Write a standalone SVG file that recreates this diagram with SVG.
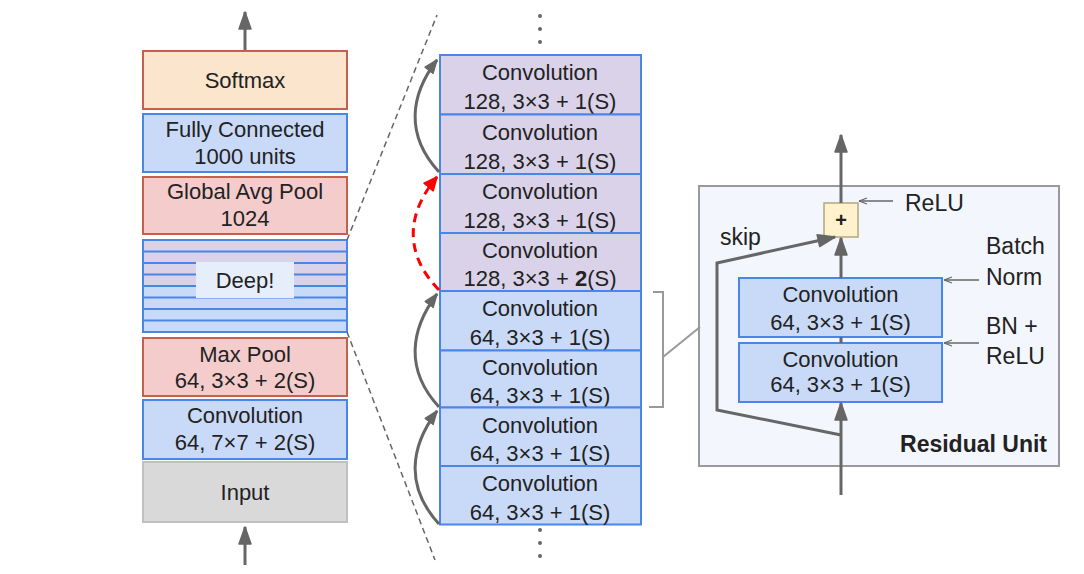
<svg xmlns="http://www.w3.org/2000/svg" width="1084" height="574" viewBox="0 0 1084 574">
<style>
text{font-family:"Liberation Sans",Arial,sans-serif;font-size:22px;fill:#222;text-anchor:middle}
.lbl{font-size:23px;text-anchor:start}
.red{fill:#f4cccc;stroke:#c5604e;stroke-width:2}
.org{fill:#fce5cd;stroke:#c5604e;stroke-width:2}
.blu{fill:#c9daf8;stroke:#4a86e8;stroke-width:2}
.pur{fill:#d9d2e9;stroke:#4a86e8;stroke-width:2}
.gry{fill:#d9d9d9;stroke:#c0c0c0;stroke-width:2}
.arr{fill:none;stroke:#666;stroke-width:3}
.thin{fill:none;stroke:#666;stroke-width:1.5}
</style>
<defs>
<marker id="ah" markerUnits="userSpaceOnUse" viewBox="0 0 20 16" markerWidth="20" markerHeight="16" refX="18" refY="7" orient="auto">
<path d="M1,1 L18,7 L1,13 z" fill="#666" stroke="#666" stroke-width="1.5" stroke-linejoin="round"/>
</marker>
<marker id="ahs" markerUnits="userSpaceOnUse" viewBox="0 0 16 12" markerWidth="16" markerHeight="12" refX="14" refY="6" orient="auto">
<path d="M1,1 L14,6 L1,11 z" fill="#666" stroke="#666" stroke-width="1.5" stroke-linejoin="round"/>
</marker>
<marker id="ahr" markerUnits="userSpaceOnUse" viewBox="0 0 16 14" markerWidth="16" markerHeight="14" refX="14" refY="7" orient="auto">
<path d="M1,1 L14,7 L1,13 z" fill="#f00" stroke="#f00" stroke-width="1.5" stroke-linejoin="round"/>
</marker>
<marker id="aht" markerUnits="userSpaceOnUse" viewBox="0 0 10 8" markerWidth="10" markerHeight="8" refX="9" refY="4" orient="auto">
<path d="M9,4 L1,1 M9,4 L1,7" fill="none" stroke="#666" stroke-width="1.2"/>
</marker>
</defs>

<!-- Left column -->
<g id="softmax"><rect class="org" x="143" y="51" width="204" height="58"/><text x="245" y="88">Softmax</text></g>
<g id="fc"><rect class="blu" x="143" y="114" width="204" height="58"/><text x="245" y="137">Fully Connected</text><text x="245" y="164">1000 units</text></g>
<g id="gap"><rect class="red" x="143" y="177" width="204" height="57"/><text x="245" y="199">Global Avg Pool</text><text x="245" y="226">1024</text></g>
<g id="deep">
<rect x="143" y="240" width="204" height="46" fill="#d9d2e9"/>
<rect x="143" y="286" width="204" height="46" fill="#c9daf8"/>
<g stroke="#4a86e8" stroke-width="2">
<line x1="143" y1="251.5" x2="347" y2="251.5"/><line x1="143" y1="263" x2="347" y2="263"/><line x1="143" y1="274.5" x2="347" y2="274.5"/><line x1="143" y1="286" x2="347" y2="286"/><line x1="143" y1="297.5" x2="347" y2="297.5"/><line x1="143" y1="309" x2="347" y2="309"/><line x1="143" y1="320.5" x2="347" y2="320.5"/>
</g>
<rect x="143" y="240" width="204" height="92" fill="none" stroke="#4a86e8" stroke-width="2"/>
<rect x="196" y="262" width="98" height="36" fill="#e6eefb"/>
<text x="245" y="288">Deep!</text>
</g>
<g id="maxpool"><rect class="red" x="143" y="338" width="204" height="58"/><text x="245" y="362">Max Pool</text><text x="245" y="388">64, 3×3 + 2(S)</text></g>
<g id="conv7"><rect class="blu" x="143" y="400" width="204" height="59"/><text x="245" y="423">Convolution</text><text x="245" y="450">64, 7×7 + 2(S)</text></g>
<g id="input"><rect class="gry" x="143" y="462" width="204" height="60"/><text x="245" y="500">Input</text></g>

<!-- Middle column -->
<g id="m1"><rect class="pur" x="440" y="55" width="201" height="59.5"/><text x="540" y="80">Convolution</text><text x="540" y="109">128, 3×3 + 1(S)</text></g>
<g id="m2"><rect class="pur" x="440" y="114.5" width="201" height="59.5"/><text x="540" y="139.5">Convolution</text><text x="540" y="168.5">128, 3×3 + 1(S)</text></g>
<g id="m3"><rect class="pur" x="440" y="174" width="201" height="59"/><text x="540" y="199">Convolution</text><text x="540" y="228">128, 3×3 + 1(S)</text></g>
<g id="m4"><rect class="pur" x="440" y="233" width="201" height="58"/><text x="540" y="258">Convolution</text><text x="540" y="286">128, 3×3 + <tspan font-weight="bold">2</tspan>(S)</text></g>
<g id="m5"><rect class="blu" x="440" y="291" width="201" height="59.5"/><text x="540" y="316">Convolution</text><text x="540" y="345">64, 3×3 + 1(S)</text></g>
<g id="m6"><rect class="blu" x="440" y="350.5" width="201" height="57"/><text x="540" y="375">Convolution</text><text x="540" y="403">64, 3×3 + 1(S)</text></g>
<g id="m7"><rect class="blu" x="440" y="407.5" width="201" height="58.5"/><text x="540" y="432.5">Convolution</text><text x="540" y="461">64, 3×3 + 1(S)</text></g>
<g id="m8"><rect class="blu" x="440" y="466" width="201" height="58.5"/><text x="540" y="491">Convolution</text><text x="540" y="519.5">64, 3×3 + 1(S)</text></g>
<g id="dots" fill="#666">
<circle cx="540" cy="16" r="2"/><circle cx="540" cy="29" r="2"/><circle cx="540" cy="42" r="2"/>
<circle cx="540" cy="530" r="2"/><circle cx="540" cy="543" r="2"/><circle cx="540" cy="556" r="2"/>
</g>

<!-- Residual unit -->
<g id="residual">
<rect x="699" y="186" width="360" height="280" fill="#f3f6fd" stroke="#999" stroke-width="2"/>
<text x="1047" y="452" style="font-weight:bold;font-size:23px;text-anchor:end">Residual Unit</text>
</g>
<g id="plus"><rect x="824" y="203" width="34" height="34" fill="#fff2cc" stroke="#b5a57a" stroke-width="1.5"/><text x="841" y="227" style="font-weight:bold;font-size:20px">+</text></g>
<g id="rconv1"><rect class="blu" x="739" y="278" width="203" height="59"/><text x="840.5" y="302">Convolution</text><text x="840.5" y="330">64, 3×3 + 1(S)</text></g>
<g id="rconv2"><rect class="blu" x="739" y="343" width="203" height="59"/><text x="840.5" y="367">Convolution</text><text x="840.5" y="392">64, 3×3 + 1(S)</text></g>
<g id="labels">
<text class="lbl" x="905" y="211">ReLU</text>
<text class="lbl" x="720" y="245">skip</text>
<text class="lbl" x="986" y="254">Batch</text>
<text class="lbl" x="986" y="285">Norm</text>
<text class="lbl" x="986" y="334">BN +</text>
<text class="lbl" x="986" y="364">ReLU</text>
</g>

<!-- Connectors -->
<g id="connectors">
<line class="arr" x1="245" y1="50" x2="245" y2="12" marker-end="url(#ah)"/>
<line class="arr" x1="245" y1="565" x2="245" y2="527" marker-end="url(#ah)"/>
<line x1="347" y1="240" x2="437" y2="15" stroke="#666" stroke-width="1.5" stroke-dasharray="6,4"/>
<line x1="347" y1="332" x2="435" y2="560" stroke="#666" stroke-width="1.5" stroke-dasharray="6,4"/>
<path class="arr" d="M439,172 C405,135 410,95 437,60" marker-end="url(#ahs)"/>
<path d="M439,290 C405,255 405,215 437,177" fill="none" stroke="#f00" stroke-width="3" stroke-dasharray="9,6" marker-end="url(#ahr)"/>
<path class="arr" d="M439,407 C405,370 410,330 437,294" marker-end="url(#ahs)"/>
<path class="arr" d="M439,524 C405,487 410,447 437,411" marker-end="url(#ahs)"/>
<path d="M653,292 L663,292 L663,407 L649,407" fill="none" stroke="#999" stroke-width="2"/>
<line x1="663" y1="357" x2="700" y2="327" stroke="#999" stroke-width="2"/>
<line class="arr" x1="841" y1="203" x2="841" y2="135" marker-end="url(#ah)"/>
<line class="arr" x1="841" y1="278" x2="841" y2="238" marker-end="url(#ah)"/>
<line class="arr" x1="841" y1="337" x2="841" y2="343"/>
<line class="arr" x1="841" y1="495" x2="841" y2="403" marker-end="url(#ah)"/>
<path class="arr" d="M841,435 L717,410 L717,263 L835,237" marker-end="url(#ah)"/>
<line class="thin" x1="893" y1="201" x2="859" y2="201" marker-end="url(#aht)"/>
<line class="thin" x1="979" y1="280" x2="944" y2="280" marker-end="url(#aht)"/>
<line class="thin" x1="979" y1="343" x2="944" y2="343" marker-end="url(#aht)"/>
</g>
</svg>
